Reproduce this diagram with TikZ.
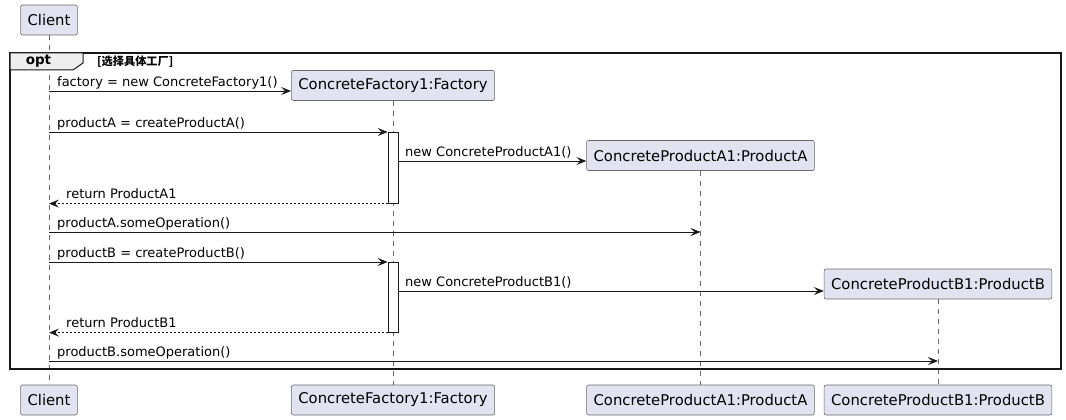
\documentclass[tikz,border=0pt]{standalone}
\usepackage{fontspec}
\setmainfont{DejaVu Sans}
\newfontfamily\cjk{Noto Sans CJK SC}
\usepackage{tikz}
\usetikzlibrary{arrows.meta,positioning}
\definecolor{partfill}{RGB}{226,226,240}
\definecolor{partline}{RGB}{24,24,24}
\definecolor{tabfill}{RGB}{238,238,238}

\begin{document}
\begin{tikzpicture}[
  x=1pt,y=-1pt,
  part/.style={
    draw=partline!65,
    fill=partfill,
    rounded corners=2pt,
    line width=0.6pt,
    minimum height=30pt,
    inner xsep=7pt,
    font=\fontsize{14.8}{17}\selectfont
    },
  life/.style={draw=partline!65, line width=0.5pt, dash pattern=on 5pt off 5pt},
  msg/.style={draw=partline, line width=0.9pt, -{Stealth[length=10pt,width=8pt,inset=4pt]}},
  ret/.style={msg, dash pattern=on 2pt off 2pt},
  lbl/.style={anchor=base west, inner sep=0pt, font=\fontsize{13}{15}\selectfont},
  actbar/.style={draw=partline, fill=white, line width=0.6pt, minimum width=10pt, inner sep=0pt, anchor=north}
]
\useasboundingbox (0,0) rectangle (1066,420);

% participants
\node[part] (client)    at (49,20)     {Client};
\node[part] (factory)   at (393,85.5)  {ConcreteFactory1:Factory};
\node[part] (prodA)     at (700.5,155.5) {ConcreteProductA1:ProductA};
\node[part] (prodB)     at (938,284)   {ConcreteProductB1:ProductB};
\node[part] (clientEnd)  at (49,400)    {Client};
\node[part] (factoryEnd) at (393,400)   {ConcreteFactory1:Factory};
\node[part] (prodAEnd)   at (700.5,400) {ConcreteProductA1:ProductA};
\node[part] (prodBEnd)   at (938,400)   {ConcreteProductB1:ProductB};

\foreach \top/\bot in {client/clientEnd, factory/factoryEnd, prodA/prodAEnd, prodB/prodBEnd}
  \draw[life] (\top.south) -- (\bot.north);

% opt frame
\draw[line width=1.6pt, draw=partline] (10,53) rectangle (1061,369);
\filldraw[fill=tabfill, draw=partline, line width=1pt] (10,53) -- (83,53) -- (83,63) -- (73,70) -- (10,70) -- cycle;
\node[font=\fontsize{13.5}{15}\selectfont\bfseries] (optname) at (38.5,61.5) {opt};
\node[anchor=west, inner sep=0pt, font=\cjk\fontsize{11.2}{13}\selectfont\bfseries] (optguard) at (97,62) {[选择具体工厂]};

% activations
\node[actbar, minimum height=71pt] (act1) at (393,132) {};
\node[actbar, minimum height=70pt] (act2) at (393,262) {};

% messages
\draw[msg] (client |- 0,91) -- (factory.west |- 0,91);
\node[lbl] (m1) at (57,86) {factory = new ConcreteFactory1()};

\draw[msg] (client |- act1.north) -- (act1.north west);
\node[lbl] (m2) at (57,127) {productA = createProductA()};

\draw[msg] (act1.east |- 0,161) -- (prodA.west |- 0,161);
\node[lbl] (m3) at (405,156) {new ConcreteProductA1()};

\draw[ret] (act1.south west) -- (client |- act1.south);
\node[lbl] (m4) at (66,198) {return ProductA1};

\draw[msg] (client |- 0,232) -- (prodA |- 0,232);
\node[lbl] (m5) at (57,227) {productA.someOperation()};

\draw[msg] (client |- act2.north) -- (act2.north west);
\node[lbl] (m6) at (57,257) {productB = createProductB()};

\draw[msg] (act2.east |- 0,291) -- (prodB.west |- 0,291);
\node[lbl] (m7) at (405,286) {new ConcreteProductB1()};

\draw[ret] (act2.south west) -- (client |- act2.south);
\node[lbl] (m8) at (66,327) {return ProductB1};

\draw[msg] (client |- 0,361) -- (prodB |- 0,361);
\node[lbl] (m9) at (57,356) {productB.someOperation()};

\end{tikzpicture}
\end{document}
